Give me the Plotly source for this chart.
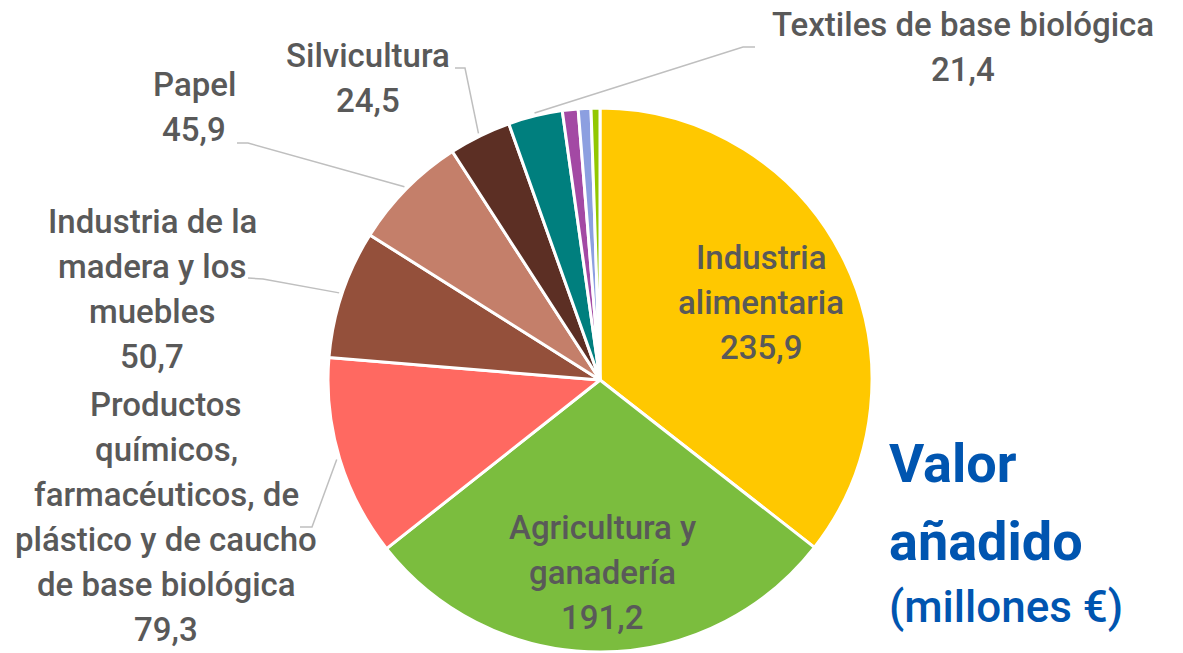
import math
import plotly.graph_objects as go

W, H = 1183, 653

# ---- data ----
labels = [
    "Industria alimentaria",
    "Agricultura y ganadería",
    "Productos químicos, farmacéuticos, de plástico y de caucho de base biológica",
    "Industria de la madera y los muebles",
    "Papel",
    "Silvicultura",
    "Textiles de base biológica",
    "Pesca y acuicultura",
    "Biocombustibles líquidos",
    "Electricidad de base biológica",
]
values = [235.9, 191.2, 79.3, 50.7, 45.9, 24.5, 21.4, 6.2, 5.0, 3.5]
label_lines = [
    ["Industria", "alimentaria"],
    ["Agricultura y", "ganadería"],
    ["Productos", "químicos,", "farmacéuticos, de", "plástico y de caucho", "de base biológica"],
    ["Industria de la", "madera y los", "muebles"],
    ["Papel"],
    ["Silvicultura"],
    ["Textiles de base biológica"],
    None, None, None,
]
title_lines = ["Valor", "añadido"]
subtitle = "(millones €)"

# ---- styles / layout ----
colors = ["#FFC800", "#7BBD3E", "#FF6961", "#94503B", "#C47F6A",
          "#5C2F24", "#007F7E", "#A349A4", "#8C9FE0", "#92C800"]
FONT = "Roboto, sans-serif"
TXT = "#595959"
cx, cy, R = 600, 380, 272  # pie centre / radius in px
LINE_H = 45                 # label line spacing in px

# label centres (px) and leader elbows (px), None = inside label
label_pos = [(761, 302), (602, 572), (166, 517), (152, 289), (194, 107), (368, 78), (963, 47)]
elbows = [None, None, [(300, 527), (312, 527)], [(248, 278), (263, 279)],
          [(237, 143), (248, 143)], [(455, 68), (465, 68)], [(755, 47), (743, 47)]]


def px2paper(x, y):
    return x / W, 1 - y / H


dom_x = [(cx - R) / W, (cx + R) / W]
dom_y = [1 - (cy + R) / H, 1 - (cy - R) / H]

fig = go.Figure(go.Pie(
    labels=labels, values=values, sort=False, direction="clockwise", rotation=0,
    marker=dict(colors=colors, line=dict(color="white", width=3)),
    textinfo="none", hoverinfo="label+value", showlegend=False,
    domain=dict(x=dom_x, y=dom_y),
))

total = sum(values)
annotations, shapes = [], []
cum = 0.0
for i, v in enumerate(values):
    mid = (cum + v / 2) / total * 2 * math.pi
    cum += v
    if label_lines[i] is None:
        continue
    lines = label_lines[i] + [f"{v:.1f}".replace(".", ",")]
    lx, ly = label_pos[i]
    n = len(lines)
    for k, line in enumerate(lines):
        yk = ly + (k - (n - 1) / 2) * LINE_H
        ax, ay = px2paper(lx, yk)
        annotations.append(dict(x=ax, y=ay, xref="paper", yref="paper", text=line, showarrow=False,
                                xanchor="center", yanchor="middle", align="center",
                                font=dict(family=FONT, size=33, color=TXT, weight=500)))
    if elbows[i]:
        ex, ey = cx + (R + 3) * math.sin(mid), cy - (R + 3) * math.cos(mid)
        pts = elbows[i] + [(ex, ey)]
        path = "M " + " L ".join(f"{px2paper(x, y)[0]},{px2paper(x, y)[1]}" for x, y in pts)
        shapes.append(dict(type="path", path=path, xref="paper", yref="paper",
                           line=dict(color="#BFBFBF", width=1.5)))

for line, ypx in zip(title_lines, [463, 541]):
    annotations.append(dict(x=887 / W, y=px2paper(0, ypx)[1], xref="paper", yref="paper",
                            text=f"<b>{line}</b>", showarrow=False, xanchor="left",
                            yanchor="middle", align="left",
                            font=dict(family=FONT, size=54, color="#0055B0")))
annotations.append(dict(x=887 / W, y=px2paper(0, 607)[1], xref="paper", yref="paper",
                        text=subtitle, showarrow=False, xanchor="left",
                        yanchor="middle", align="left",
                        font=dict(family=FONT, size=44, color="#0055B0", weight=500)))

fig.update_layout(
    width=W, height=H, margin=dict(l=0, r=0, t=0, b=0),
    paper_bgcolor="white", plot_bgcolor="white",
    annotations=annotations, shapes=shapes,
)

fig.write_html("out.html", config={"displayModeBar": False},
               post_script="document.body.style.margin='0px';document.body.style.overflow='hidden';")
